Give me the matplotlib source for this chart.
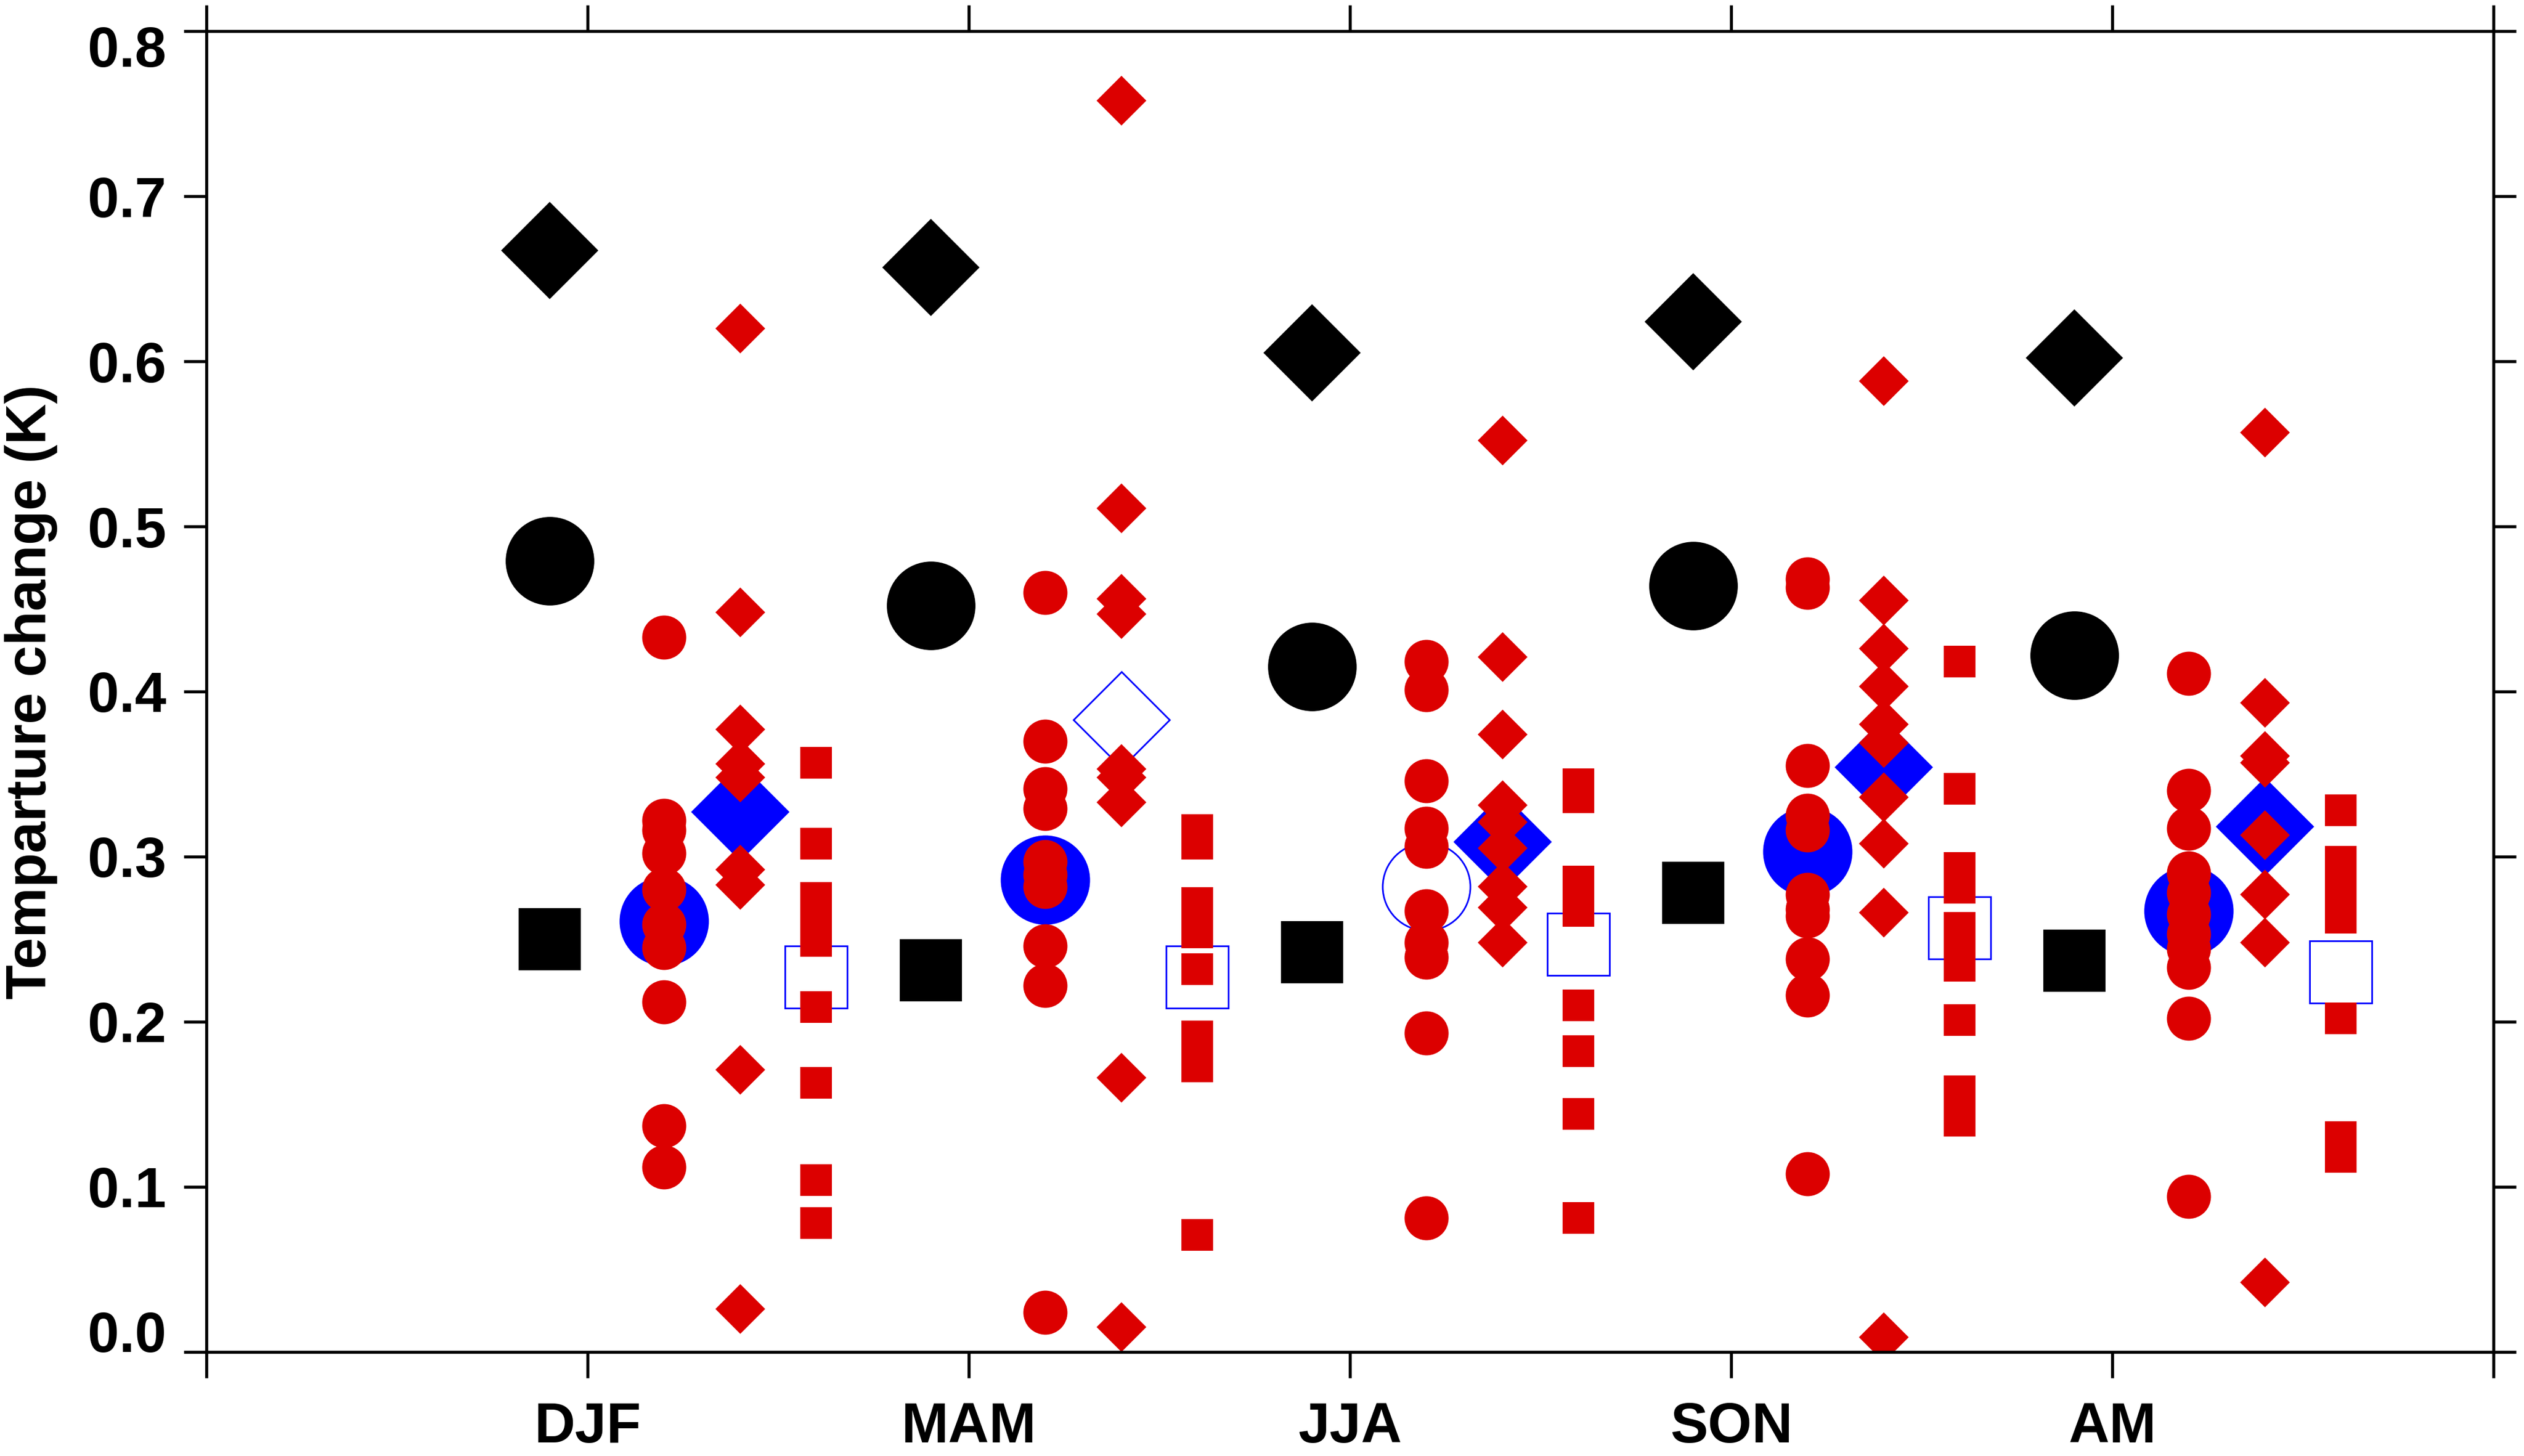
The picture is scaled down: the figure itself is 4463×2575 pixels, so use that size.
import numpy as np
import matplotlib
matplotlib.use('Agg')
from matplotlib import pyplot as plt
from matplotlib import transforms

########################################################################
# Data
########################################################################

seasons = ['DJF', 'MAM', 'JJA', 'SON', 'AM']
tick_labels = [''] + seasons + ['']

# black markers (one per season)
obs_diamond = [0.667, 0.657, 0.605, 0.624, 0.602]
obs_circle = [0.479, 0.452, 0.415, 0.464, 0.422]
obs_square = [0.250, 0.231, 0.242, 0.278, 0.237]

# blue markers (one per season)
ens_circle = [0.261, 0.286, 0.282, 0.303, 0.267]
ens_circle_filled = [True, True, False, True, True]
ens_diamond = [0.327, 0.383, 0.309, 0.354, 0.318]
ens_diamond_filled = [True, False, True, True, True]
ens_square = [0.227, 0.227, 0.247, 0.257, 0.230]

# red markers (individual members, per season)
mod_circle = [
    [0.433, 0.322, 0.316, 0.302, 0.280, 0.259, 0.245, 0.212, 0.137, 0.112],
    [0.460, 0.370, 0.341, 0.329, 0.297, 0.289, 0.282, 0.246, 0.222, 0.024],
    [0.418, 0.401, 0.346, 0.317, 0.306, 0.267, 0.248, 0.239, 0.193, 0.081],
    [0.468, 0.463, 0.355, 0.325, 0.316, 0.277, 0.268, 0.264, 0.238, 0.216, 0.108],
    [0.411, 0.340, 0.317, 0.290, 0.278, 0.265, 0.253, 0.244, 0.233, 0.202, 0.094],
]
mod_diamond = [
    [0.620, 0.448, 0.377, 0.356, 0.348, 0.292, 0.283, 0.171, 0.026],
    [0.758, 0.511, 0.456, 0.447, 0.353, 0.348, 0.333, 0.166, 0.015],
    [0.552, 0.421, 0.374, 0.331, 0.321, 0.305, 0.282, 0.269, 0.248],
    [0.588, 0.455, 0.426, 0.403, 0.380, 0.369, 0.336, 0.308, 0.266, 0.009],
    [0.557, 0.393, 0.361, 0.357, 0.313, 0.277, 0.248, 0.042],
]
mod_square = [
    [0.357, 0.308, 0.275, 0.262, 0.249, 0.209, 0.163, 0.104, 0.078],
    [0.316, 0.308, 0.272, 0.254, 0.232, 0.191, 0.173, 0.071],
    [0.344, 0.336, 0.285, 0.267, 0.210, 0.182, 0.144, 0.081],
    [0.418, 0.341, 0.293, 0.281, 0.257, 0.246, 0.234, 0.201, 0.158, 0.140],
    [0.328, 0.297, 0.280, 0.263, 0.202, 0.130, 0.118],
]

########################################################################
# Plot
########################################################################

RED = '#DC0000'
BLUE = '#0000FF'

plt.rcParams['font.family'] = ['Liberation Sans', 'DejaVu Sans']
plt.rcParams['font.weight'] = 'bold'

fig = plt.figure(figsize=(4463 / 300, 2575 / 300), dpi=300)
ax = fig.add_axes([0.0818, 0.0715, 0.9061, 0.9071])

xs = np.arange(1, len(seasons) + 1)

# black
ax.plot(xs - 0.1, obs_diamond, 'D', color='k', ms=29.2, mew=0, ls='none')
ax.plot(xs - 0.1, obs_circle, 'o', color='k', ms=37.6, mew=0, ls='none')
ax.plot(xs - 0.1, obs_square, 's', color='k', ms=26.6, mew=0, ls='none')

# blue
for i in range(len(seasons)):
    x = xs[i]
    if ens_circle_filled[i]:
        ax.plot(x + 0.2, ens_circle[i], 'o', color=BLUE, ms=37.9, mew=0)
    else:
        ax.plot(x + 0.2, ens_circle[i], 'o', mfc='none', mec=BLUE, ms=37.2, mew=0.7)
    if ens_diamond_filled[i]:
        ax.plot(x + 0.4, ens_diamond[i], 'D', color=BLUE, ms=29.4, mew=0)
    else:
        ax.plot(x + 0.4, ens_diamond[i], 'D', mfc='none', mec=BLUE, ms=28.9, mew=0.7)
    ax.plot(x + 0.6, ens_square[i], 's', mfc='none', mec=BLUE, ms=26.2, mew=0.7)

# red
for i in range(len(seasons)):
    x = xs[i]
    ax.plot(np.full(len(mod_circle[i]), x + 0.2), mod_circle[i], 'o',
            color=RED, ms=18.7, mew=0, ls='none')
    ax.plot(np.full(len(mod_diamond[i]), x + 0.4), mod_diamond[i], 'D',
            color=RED, ms=14.8, mew=0, ls='none')
    ax.plot(np.full(len(mod_square[i]), x + 0.6), mod_square[i], 's',
            color=RED, ms=13.3, mew=0, ls='none')

ax.set_xlim(0, 6)
ax.set_ylim(0, 0.8)
ax.set_xticks(range(7))
ax.set_xticklabels(tick_labels)
yt = np.arange(0, 0.81, 0.1)
ax.set_yticks(yt)
ax.set_yticklabels(['%.1f' % v for v in yt])

for s in ax.spines.values():
    s.set_linewidth(1.3)

ax.tick_params(axis='x', direction='out', length=11, width=1.3, top=True,
               bottom=True, labelsize=24, pad=10)
ax.tick_params(axis='y', direction='out', length=9.6, width=1.3, left=True,
               right=True, labelsize=24, pad=7.4)
for lbl in ax.get_xticklabels() + ax.get_yticklabels():
    lbl.set_fontweight('bold')

# end labels are pulled inside the axis range, as in the original
ylbls = ax.get_yticklabels()
ylbls[0].set_transform(ylbls[0].get_transform() +
                       transforms.ScaledTranslation(0, 36 / 300, fig.dpi_scale_trans))
ylbls[-1].set_transform(ylbls[-1].get_transform() +
                        transforms.ScaledTranslation(0, -26 / 300, fig.dpi_scale_trans))

fig.text(55 / 4463, 0.525, 'Temparture change (K)', rotation=90,
         ha='center', va='center', fontsize=24, fontweight='bold')

fig.savefig('out.png', dpi=300)
